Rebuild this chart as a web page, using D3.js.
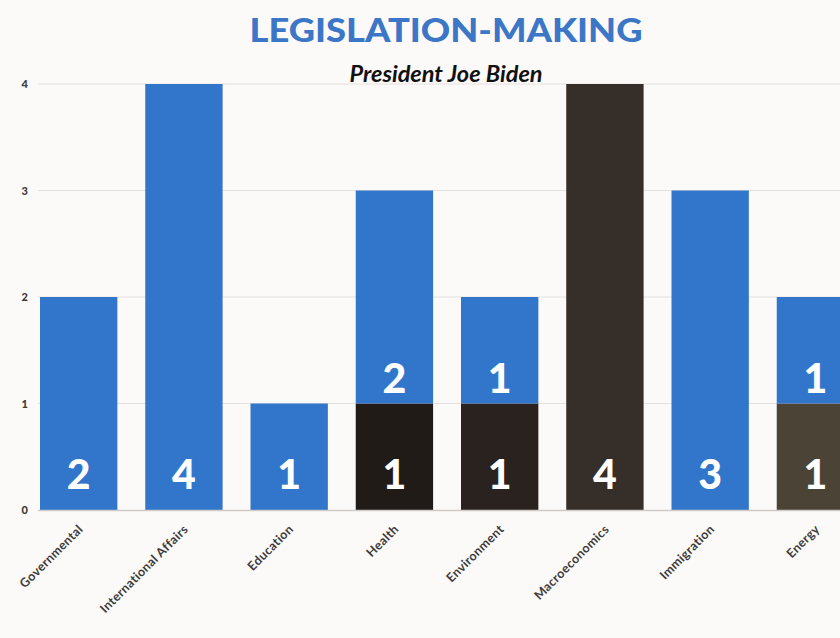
<!DOCTYPE html>
<html>
<head>
<meta charset="utf-8">
<script src="https://cdn.jsdelivr.net/npm/d3@7"></script>
<style>
  html, body { margin: 0; padding: 0; background: #fcfaf8; }
  svg { display: block; }
</style>
</head>
<body>
<svg id="chart" width="840" height="638"></svg>
<script>
// Bills by policy area
const categories = ["Governmental", "International Affairs", "Education", "Health",
                    "Environment", "Macroeconomics", "Immigration", "Energy"];
const signedValues = [0, 0, 0, 1, 1, 4, 0, 1];   // dark segment (bottom)
const otherValues  = [2, 4, 1, 2, 1, 0, 3, 1];   // blue segment (top)
const yTicks = [0, 1, 2, 3, 4];

// Shade of the dark segment, one per category
const darkShades = ["#211b18", "#211b18", "#211b18", "#211b18",
                    "#2a221e", "#362e28", "#362e28", "#4a4336"];
const blue = "#3276cc";

const svg = d3.select("#chart");
const W = 840, H = 638;

svg.append("rect").attr("width", W).attr("height", H).attr("fill", "#fcfaf8");

const rows = categories.map((c, i) => ({ cat: c, dark: signedValues[i], blue: otherValues[i] }));
const stack = d3.stack().keys(["dark", "blue"]);
const series = stack(rows);

const x = d3.scaleBand()
  .domain(categories)
  .range([37.9, 856.2])
  .paddingInner(0.265)
  .paddingOuter(0.02);

const y = d3.scaleLinear().domain([0, 4]).range([510, 84]);

// Gridlines
svg.append("g")
  .selectAll("line")
  .data(yTicks.filter(t => t > 0))
  .join("line")
  .attr("x1", 38).attr("x2", W)
  .attr("y1", d => y(d)).attr("y2", d => y(d))
  .attr("stroke", "#e4e1de").attr("stroke-width", 1);

// Y axis tick labels
const yAxis = d3.axisLeft(y).tickValues(yTicks).tickSize(0).tickPadding(0).tickFormat(d3.format("d"));
svg.append("g")
  .attr("transform", "translate(28,0)")
  .call(yAxis)
  .call(g => g.select(".domain").remove())
  .call(g => g.selectAll("text")
    .attr("font-family", "Lato, sans-serif")
    .attr("font-weight", 900)
    .attr("font-size", 11)
    .attr("fill", "#3a3a3a"));

// Bars
series.forEach(s => {
  svg.append("g")
    .selectAll("rect")
    .data(s.map((d, i) => ({ d, i })).filter(o => o.d[1] - o.d[0] > 0))
    .join("rect")
    .attr("x", o => x(categories[o.i]))
    .attr("width", x.bandwidth())
    .attr("y", o => y(o.d[1]))
    .attr("height", o => y(o.d[0]) - y(o.d[1]))
    .attr("fill", o => s.key === "dark" ? darkShades[o.i] : blue);
});

// Baseline
svg.append("line")
  .attr("x1", 38).attr("x2", W)
  .attr("y1", y(0) + 0.5).attr("y2", y(0) + 0.5)
  .attr("stroke", "#cfcac6").attr("stroke-width", 1.5);

// Value labels inside segments
series.forEach(s => {
  svg.append("g")
    .selectAll("text")
    .data(s.map((d, i) => ({ d, i })).filter(o => o.d[1] - o.d[0] > 0))
    .join("text")
    .attr("x", o => x(categories[o.i]) + x.bandwidth() / 2)
    .attr("y", o => y(o.d[0]) - (o.d[0] === 0 ? 21 : 11))
    .attr("text-anchor", "middle")
    .attr("font-family", "Lato, sans-serif")
    .attr("font-weight", 900)
    .attr("font-size", 41)
    .attr("fill", "#ffffff")
    .text(o => o.d[1] - o.d[0]);
});

// Category labels
svg.append("g")
  .selectAll("text")
  .data(categories)
  .join("text")
  .attr("transform", d => `translate(${x(d) + x.bandwidth() / 2 + 5},${530}) rotate(-45)`)
  .attr("text-anchor", "end")
  .attr("font-family", "Lato, sans-serif")
  .attr("font-weight", 700)
  .attr("font-size", 12.5)
  .attr("letter-spacing", 0.35)
  .attr("fill", "#3c3c3c")
  .text(d => d);

// Title and subtitle
svg.append("text")
  .attr("x", 446).attr("y", 42)
  .attr("text-anchor", "middle")
  .attr("font-family", "Lato, sans-serif")
  .attr("font-weight", 900)
  .attr("font-size", 33)
  .attr("textLength", 393)
  .attr("lengthAdjust", "spacingAndGlyphs")
  .attr("fill", "#3b77c6")
  .text("LEGISLATION-MAKING");

svg.append("text")
  .attr("x", 446).attr("y", 82)
  .attr("text-anchor", "middle")
  .attr("font-family", "Lato, sans-serif")
  .attr("font-weight", 700)
  .attr("font-style", "italic")
  .attr("font-size", 23.5)
  .attr("fill", "#111111")
  .text("President Joe Biden");
</script>
</body>
</html>
